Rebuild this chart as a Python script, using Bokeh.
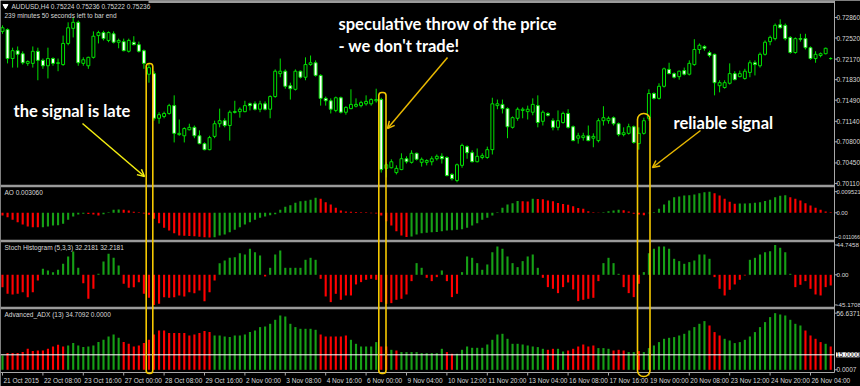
from bokeh.plotting import figure
from bokeh.models import Range1d, BoxAnnotation, Arrow, OpenHead, Label
from bokeh.embed import file_html
from bokeh.resources import INLINE
from bokeh.core.properties import value

# ---------------- data (AUDUSD H4, 21 Oct - 26 Nov 2015) ----------------
open_ = [0.7263, 0.7266, 0.7218, 0.7231, 0.7226, 0.7210, 0.7210, 0.7230, 0.7215, 0.7206,
         0.7218, 0.7210, 0.7208, 0.7243, 0.7268, 0.7278, 0.7210, 0.7206, 0.7220, 0.7256,
         0.7261, 0.7248, 0.7259, 0.7245, 0.7246, 0.7230, 0.7245, 0.7241, 0.7231, 0.7192,
         0.7193, 0.7119, 0.7122, 0.7127, 0.7140, 0.7092, 0.7090, 0.7100, 0.7104, 0.7090,
         0.7077, 0.7067, 0.7089, 0.7110, 0.7115, 0.7107, 0.7130, 0.7130, 0.7130, 0.7143,
         0.7143, 0.7134, 0.7143, 0.7134, 0.7155, 0.7193, 0.7197, 0.7173, 0.7167, 0.7197,
         0.7187, 0.7208, 0.7211, 0.7190, 0.7152, 0.7148, 0.7132, 0.7153, 0.7129, 0.7135,
         0.7139, 0.7140, 0.7143, 0.7143, 0.7148, 0.7150, 0.7036, 0.7037, 0.7029, 0.7034,
         0.7052, 0.7046, 0.7061, 0.7046, 0.7046, 0.7047, 0.7052, 0.7056, 0.7054, 0.7026,
         0.7016, 0.7041, 0.7072, 0.7062, 0.7047, 0.7054, 0.7054, 0.7067, 0.7140, 0.7142,
         0.7135, 0.7104, 0.7119, 0.7132, 0.7130, 0.7129, 0.7140, 0.7114, 0.7127, 0.7115,
         0.7104, 0.7112, 0.7127, 0.7105, 0.7086, 0.7087, 0.7090, 0.7086, 0.7082, 0.7115,
         0.7115, 0.7120, 0.7110, 0.7092, 0.7094, 0.7105, 0.7077, 0.7094, 0.7119, 0.7160,
         0.7152, 0.7172, 0.7200, 0.7193, 0.7188, 0.7198, 0.7192, 0.7208, 0.7233, 0.7238,
         0.7228, 0.7225, 0.7173, 0.7170, 0.7177, 0.7193, 0.7188, 0.7185, 0.7195, 0.7211,
         0.7206, 0.7225, 0.7246, 0.7251, 0.7274, 0.7273, 0.7253, 0.7228, 0.7251, 0.7251,
         0.7236, 0.7218, 0.7223, 0.7226, 0.7218]
high_ = [0.7273, 0.7268, 0.7236, 0.7238, 0.7230, 0.7215, 0.7238, 0.7236, 0.7218, 0.7236,
         0.7220, 0.7218, 0.7256, 0.7278, 0.7286, 0.7281, 0.7220, 0.7221, 0.7263, 0.7264,
         0.7264, 0.7263, 0.7263, 0.7251, 0.7251, 0.7251, 0.7255, 0.7246, 0.7233, 0.7210,
         0.7197, 0.7129, 0.7130, 0.7143, 0.7157, 0.7117, 0.7104, 0.7110, 0.7107, 0.7099,
         0.7079, 0.7090, 0.7115, 0.7135, 0.7119, 0.7132, 0.7148, 0.7137, 0.7148, 0.7145,
         0.7147, 0.7148, 0.7147, 0.7157, 0.7200, 0.7218, 0.7200, 0.7178, 0.7200, 0.7198,
         0.7220, 0.7223, 0.7215, 0.7192, 0.7155, 0.7152, 0.7155, 0.7155, 0.7139, 0.7167,
         0.7152, 0.7148, 0.7157, 0.7152, 0.7168, 0.7153, 0.7046, 0.7051, 0.7041, 0.7061,
         0.7056, 0.7066, 0.7062, 0.7054, 0.7051, 0.7056, 0.7059, 0.7061, 0.7056, 0.7028,
         0.7044, 0.7077, 0.7074, 0.7066, 0.7069, 0.7061, 0.7072, 0.7153, 0.7150, 0.7150,
         0.7137, 0.7122, 0.7137, 0.7137, 0.7140, 0.7152, 0.7157, 0.7132, 0.7129, 0.7119,
         0.7132, 0.7130, 0.7134, 0.7107, 0.7095, 0.7095, 0.7107, 0.7094, 0.7119, 0.7139,
         0.7122, 0.7122, 0.7112, 0.7104, 0.7110, 0.7107, 0.7104, 0.7120, 0.7167, 0.7162,
         0.7177, 0.7203, 0.7211, 0.7195, 0.7198, 0.7203, 0.7215, 0.7250, 0.7243, 0.7240,
         0.7231, 0.7226, 0.7182, 0.7182, 0.7210, 0.7197, 0.7198, 0.7201, 0.7215, 0.7215,
         0.7228, 0.7248, 0.7256, 0.7276, 0.7283, 0.7276, 0.7255, 0.7253, 0.7259, 0.7259,
         0.7238, 0.7230, 0.7228, 0.7236, 0.7220]
low_ = [0.7259, 0.7210, 0.7203, 0.7203, 0.7208, 0.7206, 0.7203, 0.7182, 0.7201, 0.7185,
        0.7206, 0.7197, 0.7206, 0.7240, 0.7253, 0.7206, 0.7206, 0.7201, 0.7218, 0.7243,
        0.7248, 0.7245, 0.7243, 0.7235, 0.7230, 0.7228, 0.7240, 0.7228, 0.7201, 0.7178,
        0.7115, 0.7110, 0.7119, 0.7125, 0.7079, 0.7090, 0.7079, 0.7099, 0.7086, 0.7076,
        0.7066, 0.7066, 0.7086, 0.7104, 0.7104, 0.7082, 0.7127, 0.7120, 0.7129, 0.7132,
        0.7132, 0.7129, 0.7132, 0.7119, 0.7153, 0.7187, 0.7168, 0.7150, 0.7165, 0.7185,
        0.7182, 0.7206, 0.7188, 0.7140, 0.7140, 0.7127, 0.7129, 0.7127, 0.7125, 0.7134,
        0.7137, 0.7137, 0.7140, 0.7140, 0.7145, 0.7029, 0.7021, 0.7036, 0.7026, 0.7033,
        0.7044, 0.7044, 0.7049, 0.7039, 0.7041, 0.7041, 0.7049, 0.7044, 0.7023, 0.7016,
        0.7013, 0.7037, 0.7052, 0.7046, 0.7046, 0.7051, 0.7052, 0.7059, 0.7134, 0.7127,
        0.7086, 0.7102, 0.7115, 0.7119, 0.7117, 0.7124, 0.7104, 0.7107, 0.7122, 0.7099,
        0.7099, 0.7110, 0.7102, 0.7081, 0.7077, 0.7082, 0.7081, 0.7071, 0.7079, 0.7107,
        0.7110, 0.7107, 0.7089, 0.7089, 0.7092, 0.7077, 0.7067, 0.7092, 0.7115, 0.7150,
        0.7150, 0.7170, 0.7192, 0.7185, 0.7183, 0.7190, 0.7190, 0.7206, 0.7226, 0.7231,
        0.7220, 0.7157, 0.7162, 0.7168, 0.7175, 0.7182, 0.7187, 0.7183, 0.7187, 0.7190,
        0.7203, 0.7223, 0.7240, 0.7248, 0.7268, 0.7248, 0.7226, 0.7226, 0.7246, 0.7233,
        0.7216, 0.7211, 0.7220, 0.7225, 0.7216]
close_ = [0.7269, 0.7218, 0.7231, 0.7225, 0.7211, 0.7213, 0.7230, 0.7215, 0.7206, 0.7218,
          0.7210, 0.7211, 0.7243, 0.7269, 0.7278, 0.7211, 0.7216, 0.7220, 0.7255, 0.7261,
          0.7251, 0.7261, 0.7245, 0.7248, 0.7231, 0.7248, 0.7241, 0.7230, 0.7210, 0.7203,
          0.7119, 0.7125, 0.7127, 0.7140, 0.7094, 0.7094, 0.7102, 0.7104, 0.7090, 0.7077,
          0.7067, 0.7087, 0.7110, 0.7115, 0.7107, 0.7129, 0.7129, 0.7134, 0.7140, 0.7140,
          0.7134, 0.7143, 0.7134, 0.7155, 0.7197, 0.7197, 0.7172, 0.7168, 0.7197, 0.7187,
          0.7208, 0.7211, 0.7190, 0.7152, 0.7148, 0.7134, 0.7153, 0.7129, 0.7137, 0.7142,
          0.7142, 0.7145, 0.7147, 0.7150, 0.7150, 0.7034, 0.7042, 0.7047, 0.7036, 0.7052,
          0.7047, 0.7061, 0.7051, 0.7051, 0.7049, 0.7052, 0.7056, 0.7052, 0.7024, 0.7019,
          0.7042, 0.7074, 0.7062, 0.7047, 0.7056, 0.7057, 0.7067, 0.7143, 0.7143, 0.7135,
          0.7105, 0.7120, 0.7134, 0.7134, 0.7134, 0.7142, 0.7112, 0.7129, 0.7124, 0.7104,
          0.7115, 0.7127, 0.7104, 0.7082, 0.7090, 0.7090, 0.7082, 0.7089, 0.7115, 0.7120,
          0.7119, 0.7110, 0.7092, 0.7095, 0.7105, 0.7079, 0.7094, 0.7115, 0.7160, 0.7152,
          0.7172, 0.7201, 0.7193, 0.7187, 0.7197, 0.7192, 0.7210, 0.7233, 0.7240, 0.7235,
          0.7223, 0.7178, 0.7178, 0.7178, 0.7193, 0.7183, 0.7193, 0.7197, 0.7211, 0.7208,
          0.7225, 0.7245, 0.7253, 0.7273, 0.7269, 0.7251, 0.7228, 0.7251, 0.7250, 0.7236,
          0.7218, 0.7225, 0.7226, 0.7235, 0.7218]

ao = [-0.0012, -0.00195, -0.00315, -0.0042, -0.00525, -0.00615, -0.00645, -0.0065, -0.00645, -0.00615,
      -0.0057, -0.0056, -0.00495, -0.00315, -0.00165, -0.00075, -0.00045, -0.0005, -0.00075, -0.0012,
      -0.0006, 0.0003, 0.00135, 0.0015, 0.00135, 0.00105, 0.00045, 0.0003, -0.0003, -0.0009,
      -0.0027, -0.00465, -0.00675, -0.00795, -0.00915, -0.0102, -0.01035, -0.0104, -0.0106, -0.0108,
      -0.0110, -0.011066, -0.0110, -0.0102, -0.00975, -0.0087, -0.00765, -0.00645, -0.00525, -0.0042,
      -0.00315, -0.00225, -0.00165, -0.00105, -0.0006, 0.00135, 0.0027, 0.00345, 0.0045, 0.00525,
      0.0054, 0.00585, 0.00675, 0.0063, 0.0048, 0.00375, 0.00225, 0.00105, 0.0006, 0.00045,
      0.0004, 0.0003, 0.0002, -0.0002, -0.0003, -0.0012, -0.00375, -0.0057, -0.00825, -0.0102,
      -0.0109, -0.01065, -0.00975, -0.00915, -0.0090, -0.0087, -0.0086, -0.00825, -0.00795, -0.0079,
      -0.00765, -0.00735, -0.00675, -0.0057, -0.00465, -0.00315, -0.00225, -0.0012, 0.0003, 0.00225,
      0.00375, 0.00435, 0.0053, 0.0052, 0.0051, 0.0063, 0.0062, 0.0061, 0.0055, 0.0052,
      0.0044, 0.0040, 0.0036, 0.0029, 0.0022, 0.0018, 0.00075, 0.0003, 0.00015, 0.0003,
      0.00075, 0.00105, 0.00135, 0.0012, 0.0006, -0.00045, -0.00075, -0.00105, -0.00015, 0.0003,
      0.0018, 0.00375, 0.00555, 0.00705, 0.00735, 0.0078, 0.00795, 0.00825, 0.00885, 0.0093,
      0.009521, 0.00885, 0.0078, 0.0063, 0.0050, 0.0041, 0.00415, 0.0042, 0.0043, 0.0045,
      0.0047, 0.0053, 0.0059, 0.0070, 0.0077, 0.0079, 0.00705, 0.0063, 0.00555, 0.00435,
      0.0033, 0.00225, 0.00135, 0.0006, 0.0003]

stoch = [-18.5, -28.5, -29.5, -28.5, -26, -33.5, -26, -8.5, 9, 6.5,
         4, 7.5, 16.5, 27.5, 35, 10.5, -12.5, -36, -21, 1.5,
         20, 31.5, 25.5, 14, -13.5, -19.5, -18.5, -11, -28.5, -34.5,
         -45.1708, -43.5, -33.5, -34.5, -33.5, -31, -32.5, -26, -27.5, -23.5,
         -39.5, -26, -8.5, 17.5, 21.5, 25.5, 26.5, 32.5, 30.5, 39,
         34, 29, -2.5, 10.5, 30.5, 36.5, 10.5, 10.5, 10.5, 10.5,
         22.5, 25.5, 22.5, -6, -32.5, -41, -28.5, -37.5, -31, -31,
         -14.5, -11, -7.5, -6, -7.5, -41, -43.5, -42.5, -37.5, -36,
         -29.5, -9.5, 17.5, 10.5, -4.5, -9.5, -3.5, 6.5, -9.5, -33.5,
         -28.5, 4, 27.5, 25.5, 17.5, 7.5, 15.5, 34, 42.5, 39,
         27.5, 17.5, 11.5, 20.5, 27.5, 30.5, 10.5, -4.5, -18.5, -21,
         -27.5, -18.5, -11.5, -22, -39.5, -37.5, -36, -34.5, -9.5, 17.5,
         25.5, 17.5, 1.5, -18.5, -27.5, -33.5, -13.5, 4, 32.5, 39,
         42.5, 42.5, 39, 24, 20.5, 16.5, 19, 21.5, 30.5, 30.5,
         24, -3.5, -21, -31, -22.5, -14.5, -7.5, -1, 22.5, 25.5,
         30.5, 34, 35.5, 44.7458, 40.5, 34, 1.5, -18.5, -15, -9.5,
         -21, -29.5, -31, -18.5, -16]

adx = [14.3, 16.7, 16.7, 16.7, 17.7, 21.0, 18.7, 19.3, 19.3, 21.0,
       23.3, 25.0, 23.3, 24.3, 26.7, 24.3, 22.7, 23.3, 24.3, 27.7,
       30.0, 33.3, 35.3, 32.0, 27.7, 26.0, 23.3, 24.3, 26.7, 30.0,
       35.3, 39.3, 39.3, 36.7, 36.7, 36.7, 36.7, 34.3, 35.3, 36.7,
       38.7, 37.7, 34.3, 34.3, 33.3, 32.7, 34.3, 34.3, 35.3, 37.7,
       39.3, 42.7, 43.3, 46.0, 50.0, 54.3, 53.3, 46.0, 42.7, 41.0,
       41.0, 41.0, 40.0, 35.3, 33.3, 33.3, 33.3, 33.3, 34.3, 30.0,
       26.0, 23.3, 23.3, 23.3, 27.7, 23.3, 23.3, 20.0, 19.3, 17.7,
       17.7, 17.7, 17.7, 16.7, 16.7, 16.7, 16.7, 21.0, 17.7, 16.0,
       16.0, 20.0, 23.3, 22.0, 22.0, 22.0, 25.3, 30.0, 35.3, 36.0,
       31.0, 26.0, 26.0, 25.3, 24.3, 23.3, 22.7, 21.0, 20.0, 21.0,
       21.0, 18.3, 19.3, 21.0, 23.3, 25.3, 23.3, 24.3, 21.7, 21.7,
       21.0, 19.3, 20.0, 19.3, 17.7, 17.7, 18.7, 17.7, 21.7, 24.3,
       27.7, 31.0, 32.0, 32.7, 34.3, 36.0, 39.3, 42.7, 46.0, 48.7,
       44.3, 37.7, 34.3, 31.0, 29.3, 26.7, 27.7, 30.0, 33.3, 37.7,
       42.7, 47.7, 52.7, 56.6371, 55.3, 54.3, 50.0, 46.0, 44.3, 39.3,
       34.3, 31.0, 27.7, 26.0, 23.3]
# ADX bar direction: g = +DI above -DI, r = -DI above +DI
adx_dir = list("grrrrrrrrr" "rrrggggggg" "ggggrrrrrr" "rrrrrrrrrr" "rrgggggggg"
               "gggggggggg" "gggrrrrrrg" "gggggrrgrg" "ggggggggrr" "gggggggggg"
               "ggggggggrr" "ggrrrrrrgg" "grrrggrggg" "gggggggggg" "rrrggggggg"
               "gggggggggr" "rrrgr")

adx_level = 15.0

time_ticks = [0, 8, 16, 24, 32, 40, 48, 56, 64, 72, 80, 88, 96, 104, 112, 120, 128, 136, 144, 152, 160]
time_labels = ["21 Oct 2015", "22 Oct 08:00", "23 Oct 16:00", "27 Oct 00:00", "28 Oct 08:00",
               "29 Oct 16:00", "2 Nov 00:00", "3 Nov 08:00", "4 Nov 16:00", "6 Nov 00:00",
               "9 Nov 04:00", "10 Nov 12:00", "11 Nov 20:00", "13 Nov 04:00", "16 Nov 08:00",
               "17 Nov 16:00", "19 Nov 00:00", "20 Nov 08:00", "23 Nov 12:00", "24 Nov 20:00",
               "26 Nov 04:00"]
price_ticks = [0.7286, 0.7252, 0.7217, 0.7183, 0.7149, 0.7114, 0.7080, 0.7045, 0.7011]
price_labels = ["0.72860", "0.72520", "0.72170", "0.71830", "0.71490", "0.71140", "0.70800", "0.70450", "0.70110"]
ao_ticks = [0.009521, 0.0, -0.011066]
ao_labels = ["0.009521", "0.00", "-0.011066"]
stoch_ticks = [44.7458, 0.0, -45.1708]
stoch_labels = ["44.7458", "0.00", "-45.1708"]
adx_ticks = [56.6371, 0.0007]
adx_labels = ["56.6371", "0.0007"]

# ---------------- layout ----------------
N = len(close_)
idx = list(range(N))
BAR_PX = 5.05
X0_PX = 2.0
W, H = 860, 386          # whole canvas is the frame; pixel rows 372..386 hold the time scale
AXIS_Y = 372


def bx(px):
    return (px - X0_PX) / BAR_PX


AXIS_X = bx(834)


def px_range(v0, y0, k):
    return Range1d(start=v0 - (H - y0) * k, end=v0 + y0 * k)


CANDLE = "#00e000"
HG = "#16a016"
HR = "#ff0000"
GRAY = "#9a9a9a"
TXT = "#d8d8d8"
FONT_NAME = "Liberation Sans"
FONT = value(FONT_NAME)

p = figure(frame_width=W, frame_height=H, x_range=Range1d(bx(0), bx(W)), y_range=Range1d(H, 0),
           output_backend="svg", toolbar_location=None, x_axis_location=None, y_axis_location=None,
           background_fill_color="black", border_fill_color="black", outline_line_color=None,
           min_border=0)
p.extra_y_ranges = {
    "price": px_range(0.7286, 17, 0.0001657),
    "ao": px_range(0.0, 212.3, 0.00045),
    "stoch": px_range(0.0, 274.3, 1.5),
    "adx": px_range(0.0, 369.3, 1.0),
}
p.xgrid.grid_line_color = None
p.ygrid.grid_line_color = None

# panel separators, right price axis line, bottom time axis line
seps = [1.2, 185.5, 240.5, 307.5]
seps_x0 = [bx(148), bx(0), bx(0), bx(0)]
p.segment(x0=seps_x0, y0=seps, x1=[AXIS_X] * 4, y1=seps, line_color=GRAY, line_width=2.5)
p.segment(x0=[AXIS_X], y0=[0], x1=[AXIS_X], y1=[AXIS_Y], line_color="#a8a8a8", line_width=1)
p.segment(x0=[bx(0)], y0=[AXIS_Y], x1=[AXIS_X], y1=[AXIS_Y], line_color="#a8a8a8", line_width=1)

# candles
body_top = [max(o, c) for o, c in zip(open_, close_)]
body_bot = [min(o, c) for o, c in zip(open_, close_)]
body_fill = ["black" if c > o else "white" for o, c in zip(open_, close_)]
p.segment(x0=idx, y0=low_, x1=idx, y1=high_, y_range_name="price", line_color=CANDLE, line_width=1)
p.vbar(x=idx, width=0.58, top=body_top, bottom=body_bot, fill_color=body_fill,
       line_color=CANDLE, line_width=1, y_range_name="price")

# AO histogram
ao_col = [HR if i == 0 or ao[i] < ao[i - 1] else HG for i in range(N)]
p.vbar(x=idx, width=0.42, top=ao, bottom=0, fill_color=ao_col, line_color=None, y_range_name="ao")

# Stoch histogram
st_col = [HG if v >= 0 else HR for v in stoch]
p.vbar(x=idx, width=0.42, top=stoch, bottom=0, fill_color=st_col, line_color=None, y_range_name="stoch")

# Advanced ADX
adx_col = [HG if d == "g" else HR for d in adx_dir]
p.vbar(x=idx, width=0.42, top=adx, bottom=0, fill_color=adx_col, line_color=None, y_range_name="adx")
p.segment(x0=[bx(0)], y0=[adx_level], x1=[AXIS_X], y1=[adx_level], line_color="white", line_width=1,
          y_range_name="adx")

# right axis labels and ticks
LAB_X = bx(836)
TICK_X1 = bx(837)
for ticks, labels, rng, fs in [(price_ticks, price_labels, "price", ["6.5px"] * 9),
                               (ao_ticks, ao_labels, "ao", ["5.8px", "5.8px", "5.3px"]),
                               (stoch_ticks, stoch_labels, "stoch", ["6.2px"] * 3),
                               (adx_ticks, adx_labels, "adx", ["6.5px"] * 2)]:
    p.segment(x0=[AXIS_X] * len(ticks), y0=ticks, x1=[TICK_X1] * len(ticks), y1=ticks,
              line_color="#a8a8a8", line_width=1, y_range_name=rng)
    p.text(x=[LAB_X] * len(ticks), y=ticks, text=labels, y_range_name=rng,
           text_font=FONT, text_font_size=fs, text_color=TXT,
           text_align="left", text_baseline="middle")

p.add_layout(Label(x=LAB_X - 0.1, y=adx_level, y_range_name="adx", text="15.0000",
                   text_font=FONT_NAME, text_font_size="6.5px", text_color="black",
                   text_baseline="middle", background_fill_color="white"))

# time scale: ticks and left-aligned labels
p.segment(x0=time_ticks, y0=[AXIS_Y] * len(time_ticks), x1=time_ticks, y1=[AXIS_Y + 3] * len(time_ticks),
          line_color="#a8a8a8", line_width=1)
p.text(x=time_ticks, y=[379.5] * len(time_ticks), text=time_labels, x_offset=1,
       text_font=FONT, text_font_size="6.5px", text_color=TXT,
       text_align="left", text_baseline="middle")

# panel titles / header
p.scatter(x=[bx(5)], y=[5.5], marker="inverted_triangle", size=5, fill_color="white", line_color="white")
p.text(x=[bx(11), bx(4), bx(4), bx(4), bx(4)], y=[6, 15, 192, 247, 314],
       text=["AUDUSD,H4  0.75224 0.75236 0.75222 0.75236",
             "239 minutes 50 seconds left to bar end",
             "AO 0.003060",
             "Stoch Histogram (5,3,3) 32.2181 32.2181",
             "Advanced_ADX (13) 34.7092 0.0000"],
       text_font=FONT, text_font_size="6.5px", text_color=TXT,
       text_align="left", text_baseline="middle")

# highlighted signal bars
BOX = "#f5c800"
for left, right, top, bottom, rad in [(145.7, 152.3, 63, 373, 3), (378.3, 385.5, 92, 373, 3),
                                      (637.0, 649.5, 113, 376, 6)]:
    p.add_layout(BoxAnnotation(left=bx(left), right=bx(right), top=top, bottom=bottom,
                               fill_color=None, fill_alpha=0, line_color=BOX, line_alpha=1.0,
                               line_width=1.6, border_radius=rad))

# arrows
for (x0, y0, x1, y1, col) in [(82, 123, 144, 176, "#f4ee10"), (447, 57, 387, 128, "#e8b800"),
                              (700, 130, 652, 167, "#e8b800")]:
    p.add_layout(Arrow(end=OpenHead(size=7, line_color=col, line_width=1.5),
                       x_start=bx(x0), y_start=y0, x_end=bx(x1), y_end=y1,
                       line_color=col, line_width=1.5))

# commentary texts
p.text(x=[bx(13), bx(338), bx(338), bx(673)], y=[110, 23, 45, 122],
       text=["the signal is late", "speculative throw of the price", "- we don't trade!", "reliable signal"],
       text_font=value("Lato"), text_font_size="16.5px", text_font_style="bold", text_color="white",
       text_align="left", text_baseline="middle")

open("out.html", "w").write(file_html(p, INLINE))
